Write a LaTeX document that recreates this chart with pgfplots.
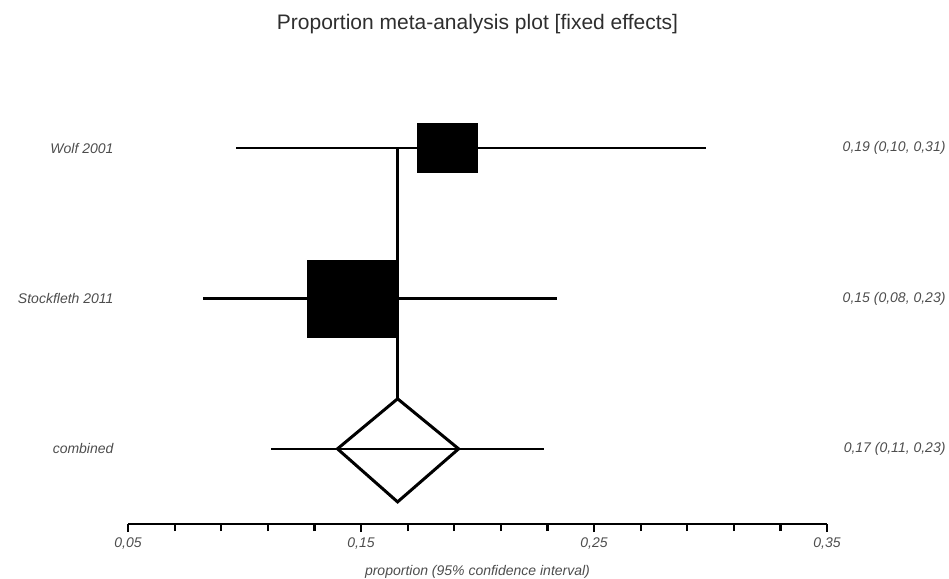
\documentclass[border=0pt]{standalone}
\usepackage{fontspec}
\setmainfont{Liberation Sans}
\usepackage{pgfplots}
\pgfplotsset{compat=1.18}
\definecolor{lbl}{HTML}{4D4D4D}
\definecolor{ttl}{HTML}{2E2E2E}
\begin{document}
\begin{tikzpicture}
\useasboundingbox (0,0) rectangle (949pt,578pt);
\begin{axis}[
  at={(128pt,54pt)}, anchor=south west,
  scale only axis, width=699pt, height=451pt,
  xmin=0.05, xmax=0.35, ymin=0.5, ymax=3.5,
  axis x line*=bottom, axis y line*=left,
  y axis line style={draw=none},
  x axis line style={line width=2.6pt, -},
  xtick={0.05,0.15,0.25,0.35},
  xticklabels={{0,05},{0,15},{0,25},{0,35}},
  minor xtick={0.07,0.09,0.11,0.13,0.17,0.19,0.21,0.23,0.27,0.29,0.31,0.33},
  tick align=outside,
  major tick length=8pt, minor tick length=7pt,
  every tick/.style={line width=2.2pt, black},
  xticklabel style={font=\itshape\fontsize{14}{16}\selectfont, text=lbl, yshift=-2pt},
  ytick={1,2,3},
  yticklabels={combined,Stockfleth 2011,Wolf 2001},
  ytick style={draw=none},
  yticklabel style={font=\itshape\fontsize{14}{16}\selectfont, text=lbl, xshift=-3pt},
  xlabel={proportion (95\% confidence interval)},
  xlabel style={font=\itshape\fontsize{14}{16}\selectfont, text=lbl, at={(axis description cs:0.5,0)}, anchor=center, yshift=-48pt},
  clip=false,
]
% vertical line at combined estimate
\addplot[line width=2.2pt, black] coordinates {(0.1657,3) (0.1657,1.333)};
% confidence intervals
\addplot[line width=2.4pt, black] coordinates {(0.0965,3) (0.298,3)};
\addplot[line width=2.4pt, black] coordinates {(0.0823,2) (0.234,2)};
\addplot[line width=2.4pt, black] coordinates {(0.1115,1) (0.2285,1)};
% study boxes
\addplot[fill=black, draw=black] coordinates {(0.1743,2.84) (0.1997,2.84) (0.1997,3.167) (0.1743,3.167)} --cycle;
\addplot[fill=black, draw=black] coordinates {(0.1270,1.74) (0.1661,1.74) (0.1661,2.253) (0.1270,2.253)} --cycle;
% combined diamond
\addplot[line width=3pt, black, fill=none, line join=miter] coordinates {(0.1399,1) (0.1657,1.333) (0.1919,1) (0.1657,0.647)} --cycle;
% right-hand estimates
\node[anchor=east, font=\itshape\fontsize{14}{16}\selectfont, text=lbl] at (axis cs:0.35,3) [xshift=122pt] {0,19 (0,10, 0,31)};
\node[anchor=east, font=\itshape\fontsize{14}{16}\selectfont, text=lbl] at (axis cs:0.35,2) [xshift=122pt] {0,15 (0,08, 0,23)};
\node[anchor=east, font=\itshape\fontsize{14}{16}\selectfont, text=lbl] at (axis cs:0.35,1) [xshift=122pt] {0,17 (0,11, 0,23)};
% title
\node[font=\fontsize{21}{25}\selectfont, text=ttl] at (rel axis cs:0.5,1) [yshift=49pt] {Proportion meta-analysis plot [fixed effects]};
\end{axis}
\end{tikzpicture}
\end{document}
